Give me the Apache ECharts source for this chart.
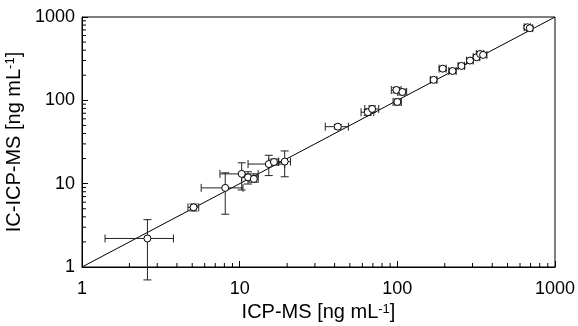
<!DOCTYPE html>
<html>
<head>
<meta charset="utf-8">
<script src="https://cdn.jsdelivr.net/npm/echarts@6/dist/echarts.min.js"></script>
<style>html,body{margin:0;padding:0;background:#fff}#c{width:578px;height:326px}</style>
</head>
<body>
<div id="c"></div>
<script>
// ICP-MS (x) vs IC-ICP-MS (y), ng mL^-1
const icpms   = [2.6, 5.1, 8.1, 10.3, 11.3, 12.3, 15.3, 16.5, 19.3, 41.9, 64.9, 69.2, 98.6, 107.6, 100, 170, 194, 224, 255, 289, 318, 335, 350, 668, 692];
const icicpms = [2.2, 5.2, 8.9, 13.1, 11.9, 11.4, 17.2, 18.2, 18.4, 48.3, 72, 78.8, 133, 126, 95.7, 176, 240, 225, 259, 300, 329, 360, 351, 754, 734];
const xErr    = [1.2, 0.4, 2.4, 2.8, 1.0, 0.8, 4.0, 1.2, 1.7, 7, 6, 7, 7, 7, 6, 8, 10, 12, 12, 14, 15, 18, 20, 30, 30];
const yErr    = [1.5, 0.5, 4.6, 4.7, 2.0, 1.0, 4.7, 1.5, 6.3, 3, 6, 7, 10, 10, 8, 10, 12, 14, 15, 18, 20, 22, 20, 35, 35];
const tickLabels = ['1', '10', '100', '1000'];
const minorTicks = [2,3,4,5,6,7,8,9,20,30,40,50,60,70,80,90,200,300,400,500,600,700,800,900];
const identity = [[1, 1], [1000, 1000]];

const FONT = '"Liberation Sans", Arial, sans-serif';
const pts = icpms.map((x, i) => [x, icicpms[i]]);
const errs = icpms.map((x, i) => [x, icicpms[i], xErr[i], yErr[i]]);

function labelFmt(v) {
  const e = Math.round(Math.log10(v));
  return tickLabels[e] !== undefined ? tickLabels[e] : String(v);
}
const titleRich = {
  m: {fontFamily: FONT, fontSize: 20, color: '#000'},
  s: {fontFamily: FONT, fontSize: 13, color: '#000', verticalAlign: 'top', padding: [0, 0, 7, 0]}
};

const chart = echarts.init(document.getElementById('c'), null, {renderer: 'canvas'});
chart.setOption({
  animation: false,
  backgroundColor: '#fff',
  grid: {left: 82, right: 23, top: 17, bottom: 59, containLabel: false, outerBoundsMode: 'none',
         show: true, borderColor: '#000', borderWidth: 1, backgroundColor: 'transparent'},
  xAxis: {
    type: 'log', logBase: 10, min: 1, max: 1000,
    axisLine: {lineStyle: {color: '#000', width: 1}},
    axisTick: {inside: true, length: 6, lineStyle: {color: '#000'}},
    splitLine: {show: false},
    axisLabel: {color: '#000', fontFamily: FONT, fontSize: 18, margin: 13, formatter: labelFmt},
    name: '{m|ICP-MS [ng mL}{s|-1}{m|]}',
    nameLocation: 'middle', nameGap: 32,
    nameTextStyle: {color: '#000', fontFamily: FONT, fontSize: 20, rich: titleRich}
  },
  yAxis: {
    type: 'log', logBase: 10, min: 1, max: 1000,
    axisLine: {lineStyle: {color: '#000', width: 1}},
    axisTick: {inside: true, length: 6, lineStyle: {color: '#000'}},
    splitLine: {show: false},
    axisLabel: {color: '#000', fontFamily: FONT, fontSize: 18, margin: 7, formatter: labelFmt},
    name: '{m|IC-ICP-MS [ng mL}{s|-1}{m|]}',
    nameLocation: 'middle', nameGap: 48, nameRotate: 90,
    nameTextStyle: {color: '#000', fontFamily: FONT, fontSize: 20, rich: titleRich}
  },
  series: [
    {
      type: 'custom', clip: false, silent: true, z: 1,
      data: minorTicks.map(v => [v, 1]),
      renderItem: (params, api) => {
        const p = api.coord([api.value(0), 1]);
        return {type: 'line', shape: {x1: p[0], y1: p[1], x2: p[0], y2: p[1] - 4}, style: {stroke: '#000', lineWidth: 1}};
      }
    },
    {
      type: 'custom', clip: false, silent: true, z: 1,
      data: minorTicks.map(v => [1, v]),
      renderItem: (params, api) => {
        const p = api.coord([1, api.value(1)]);
        return {type: 'line', shape: {x1: p[0], y1: p[1], x2: p[0] + 4, y2: p[1]}, style: {stroke: '#000', lineWidth: 1}};
      }
    },
    {
      type: 'line', data: identity, symbol: 'none', silent: true, z: 2,
      lineStyle: {color: '#000', width: 1}
    },
    {
      type: 'custom', clip: false, silent: true, z: 3,
      data: errs,
      renderItem: (params, api) => {
        const x = api.value(0), y = api.value(1), ex = api.value(2), ey = api.value(3);
        const l = api.coord([x - ex, y]), r = api.coord([x + ex, y]);
        const t = api.coord([x, y + ey]), b = api.coord([x, y - ey]);
        const cap = 4;
        const st = {stroke: '#222', lineWidth: 1};
        return {type: 'group', children: [
          {type: 'line', shape: {x1: l[0], y1: l[1], x2: r[0], y2: r[1]}, style: st},
          {type: 'line', shape: {x1: l[0], y1: l[1] - cap, x2: l[0], y2: l[1] + cap}, style: st},
          {type: 'line', shape: {x1: r[0], y1: r[1] - cap, x2: r[0], y2: r[1] + cap}, style: st},
          {type: 'line', shape: {x1: t[0], y1: t[1], x2: b[0], y2: b[1]}, style: st},
          {type: 'line', shape: {x1: t[0] - cap, y1: t[1], x2: t[0] + cap, y2: t[1]}, style: st},
          {type: 'line', shape: {x1: b[0] - cap, y1: b[1], x2: b[0] + cap, y2: b[1]}, style: st}
        ]};
      }
    },
    {
      type: 'scatter', data: pts, symbol: 'circle', symbolSize: 7, z: 4,
      itemStyle: {color: '#fff', borderColor: '#000', borderWidth: 1, opacity: 1}
    }
  ]
});
</script>
</body>
</html>
